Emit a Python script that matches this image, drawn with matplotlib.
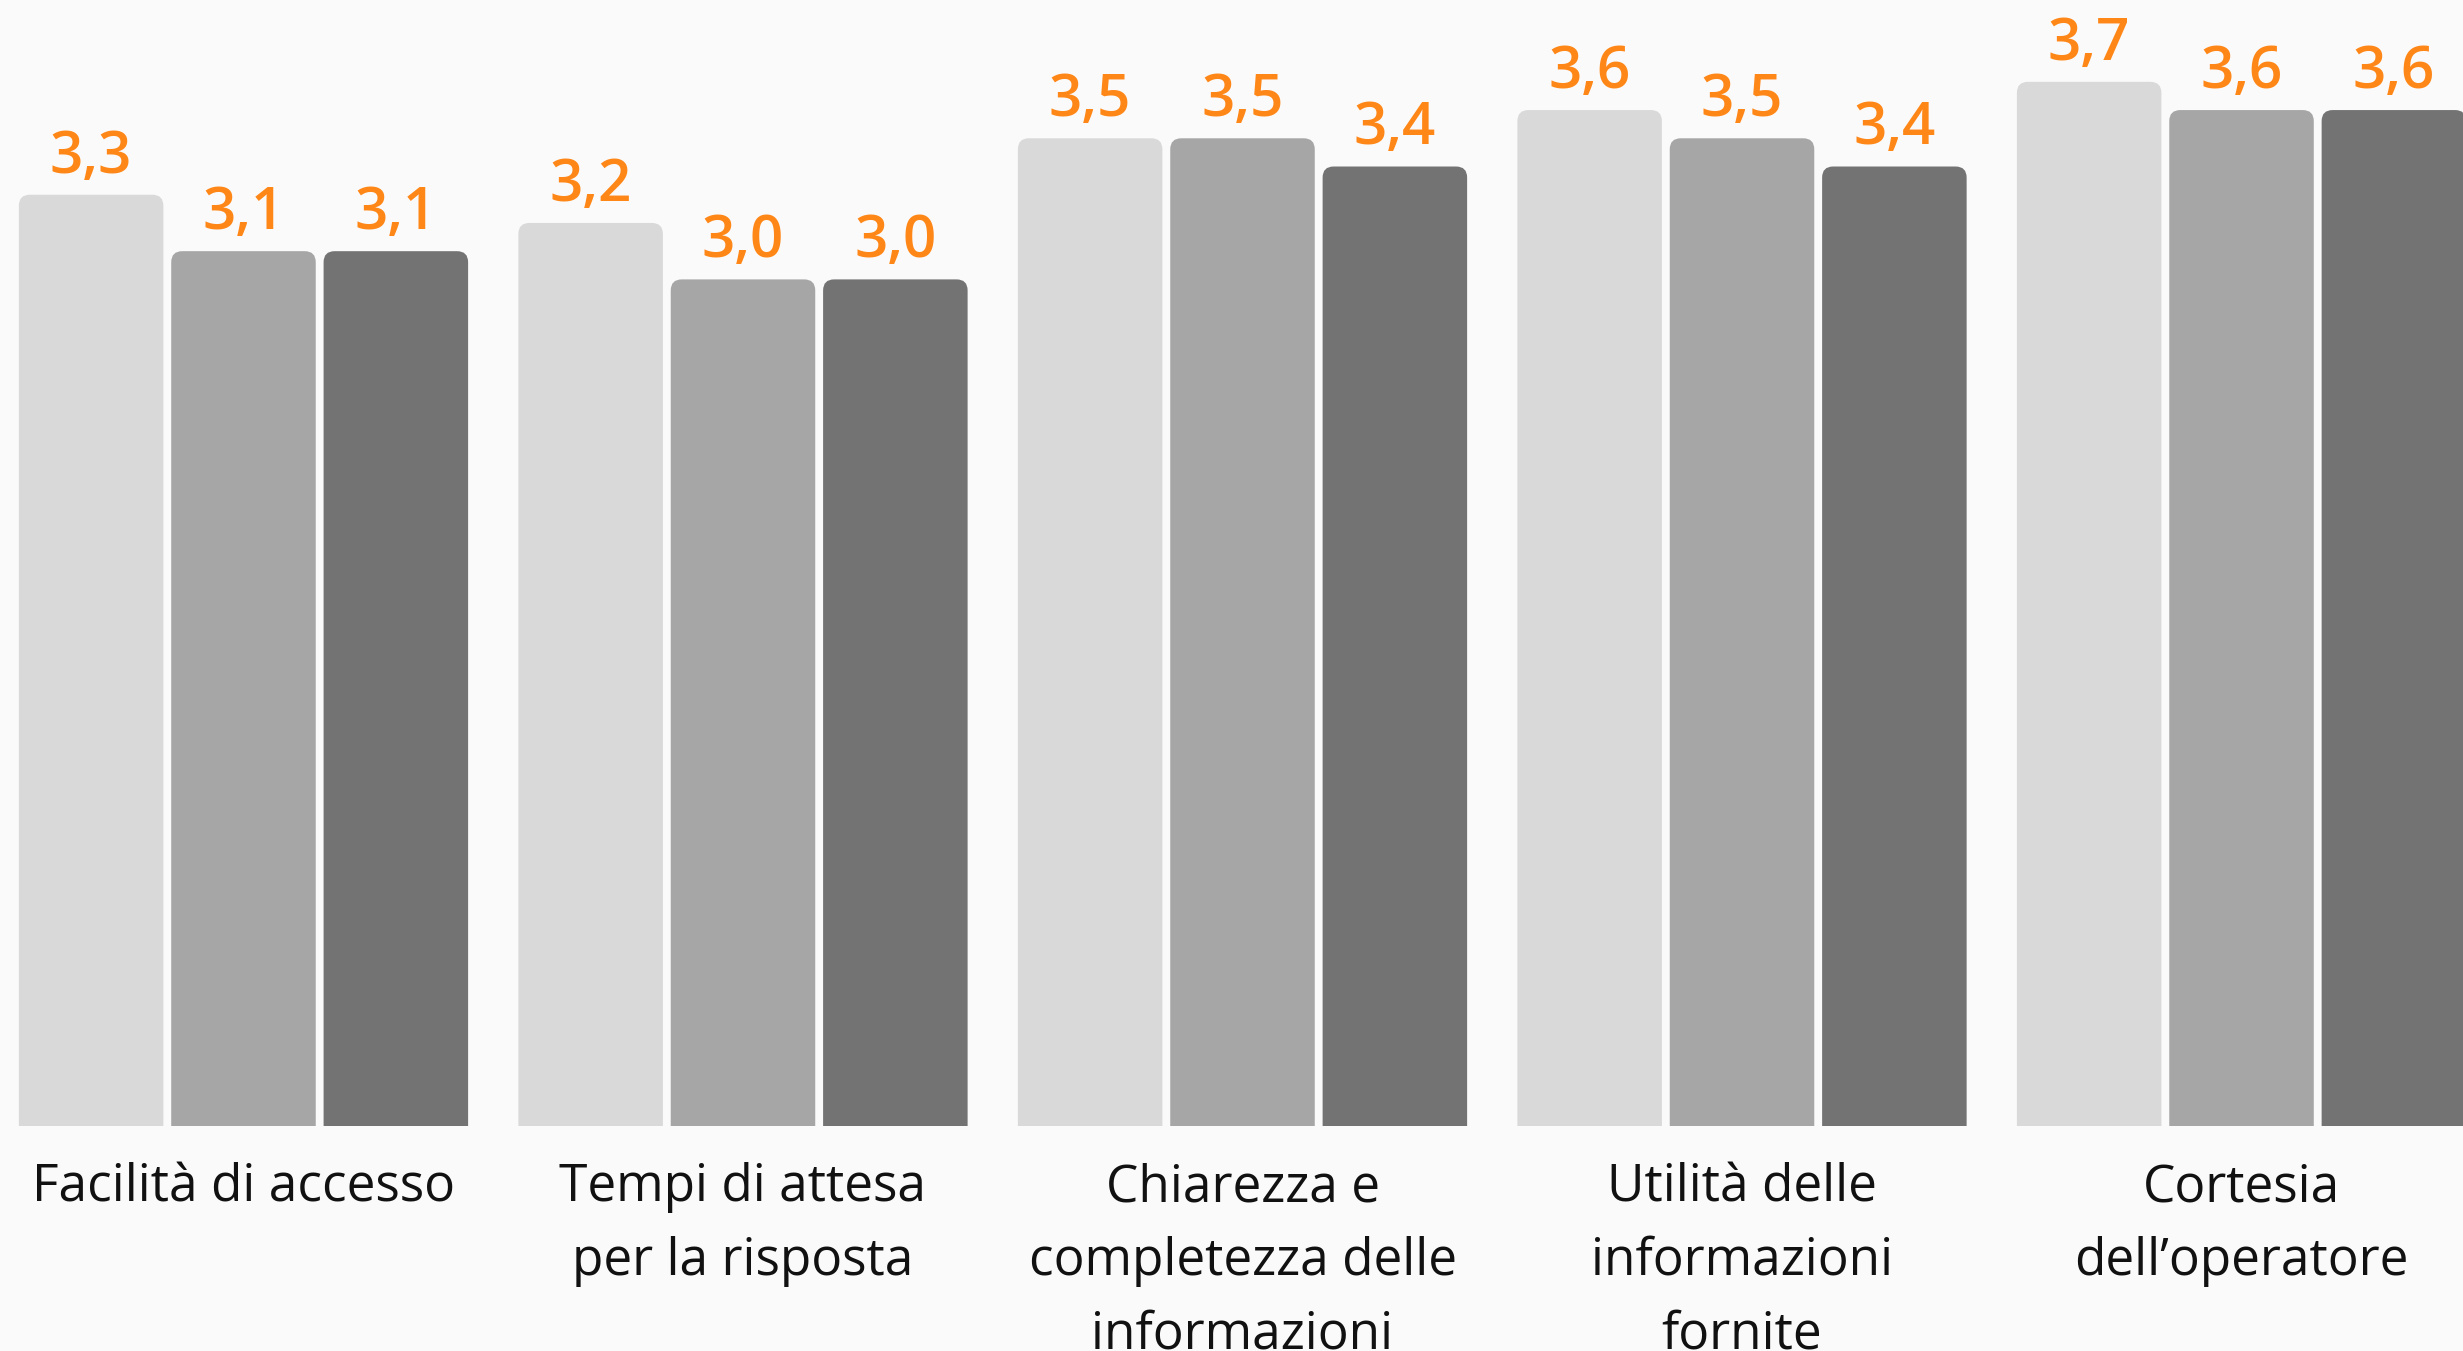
#!/usr/bin/env python3
import matplotlib
matplotlib.use("Agg")
import matplotlib.pyplot as plt
from matplotlib.patches import FancyBboxPatch

# Survey scores per category, three series (light, mid, dark grey)
categories = [
    "Facilità di accesso",
    "Tempi di attesa\nper la risposta",
    "Chiarezza e\ncompletezza delle\ninformazioni",
    "Utilità delle\ninformazioni\nfornite",
    "Cortesia\ndell\u2019operatore",
]
series_a = [3.3, 3.2, 3.5, 3.6, 3.7]
series_b = [3.1, 3.0, 3.5, 3.5, 3.6]
series_c = [3.1, 3.0, 3.4, 3.4, 3.6]

COLORS = ["#d9d9d9", "#a6a6a6", "#737373"]
ORANGE = "#ff8718"
BG = "#fafafa"

GROUP_STEP = 318 / 97
BAR_W = 92 / 97

fig = plt.figure(figsize=(24.63, 13.51), dpi=100, facecolor=BG)
ax = fig.add_axes([0, 0.1665, 1, 0.8335], facecolor=BG)
ax.set_xlim(-0.598, 15.567)
ax.set_ylim(0, 3.99)
ax.axis("off")

# display px per data unit, used to keep corner rounding circular
px_x = 2463 / (15.567 + 0.598)
px_y = 0.8335 * 1351 / 3.99
radius_px = 11
rx = radius_px / px_x
aspect = (radius_px / px_y) / rx

for s, values in enumerate([series_a, series_b, series_c]):
    xs = [g * GROUP_STEP + s for g in range(len(values))]
    bars = ax.bar(xs, values, width=BAR_W, color=COLORS[s])
    for bar, v in zip(bars, values):
        bar.set_visible(False)
        x0 = bar.get_x()
        patch = FancyBboxPatch(
            (x0, -0.3), bar.get_width(), v + 0.3,
            boxstyle=f"round,pad=0,rounding_size={rx}",
            mutation_aspect=aspect,
            facecolor=COLORS[s], edgecolor="none",
        )
        ax.add_patch(patch)
        ax.annotate(
            f"{v:.1f}".replace(".", ","),
            xy=(x0 + bar.get_width() / 2, v), xytext=(0, 16),
            textcoords="offset points", ha="center", va="baseline",
            color=ORANGE, fontsize=42, fontfamily="Open Sans", fontweight="semibold",
            annotation_clip=False,
        )

for g, label in enumerate(categories):
    ax.annotate(
        label, xy=(g * GROUP_STEP + 1, 0), xycoords="data",
        xytext=(0, -26), textcoords="offset points",
        ha="center", va="top", multialignment="center", linespacing=1.58,
        fontsize=37, fontfamily="Open Sans", color="#111111",
        annotation_clip=False,
    )

fig.savefig("out.png", dpi=100, facecolor=BG)
